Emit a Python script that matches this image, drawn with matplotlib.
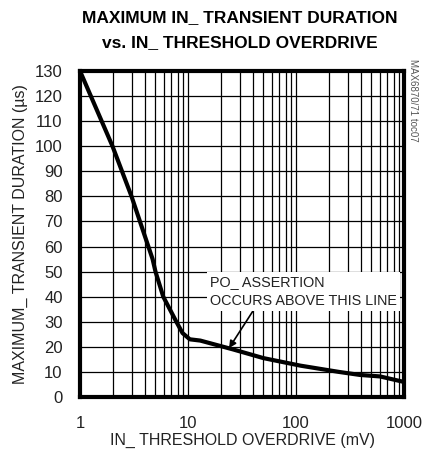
import matplotlib
matplotlib.use('Agg')
import matplotlib.pyplot as plt
from matplotlib.ticker import FixedLocator, LogLocator, NullFormatter

plt.rcParams['font.family'] = ['Liberation Sans Narrow', 'Liberation Sans', 'DejaVu Sans']

# curve
overdrive_mv = [1, 2, 3, 4.7, 5, 5.9, 7.8, 8.9, 10.4, 13, 26, 50, 110, 250, 390, 600, 1000]
duration_us = [130, 100, 80, 55, 50, 40, 30, 25.5, 23, 22.5, 19, 15.5, 12.5, 10, 8.8, 8.2, 6]

x_ticks = [1, 10, 100, 1000]
x_labels = ['1', '10', '100', '1000']
y_ticks = list(range(0, 131, 10))

fig = plt.figure(figsize=(4.22, 4.55), dpi=100)
ax = fig.add_axes([80 / 422, 1 - 397 / 455, 324 / 422, 326 / 455])

ax.plot(overdrive_mv, duration_us, color='black', lw=3, solid_capstyle='round', zorder=3)

ax.set_xscale('log')
ax.set_xlim(1, 1000)
ax.set_ylim(0, 130)
ax.xaxis.set_major_locator(FixedLocator(x_ticks))
ax.set_xticklabels(x_labels)
ax.xaxis.set_minor_locator(LogLocator(base=10, subs=range(2, 10)))
ax.xaxis.set_minor_formatter(NullFormatter())
ax.set_yticks(y_ticks)

ax.grid(True, which='both', axis='x', color='black', lw=0.9)
ax.grid(True, which='major', axis='y', color='black', lw=0.9)
ax.tick_params(which='both', length=0, labelsize=12, colors='#222222')
ax.tick_params(axis='x', pad=14)
ax.tick_params(axis='y', pad=12.5)
for s in ax.spines.values():
    s.set_linewidth(3)

ax.set_xlabel('IN_ THRESHOLD OVERDRIVE (mV)', fontsize=11.5, color='#222222')
ax.set_ylabel('MAXIMUM_ TRANSIENT DURATION (µs)', fontsize=11.5, color='#222222')
ax.xaxis.set_label_coords(0.5, -(440 - 397) / 326)
ax.yaxis.set_label_coords(-(80 - 20) / 324, 0.5)
ax.xaxis.label.set_va('center')
ax.yaxis.label.set_va('center')

fig.suptitle('MAXIMUM IN_ TRANSIENT DURATION\nvs. IN_ THRESHOLD OVERDRIVE',
             x=240 / 422, y=1 - 10 / 455, fontsize=12.5, fontweight='bold', linespacing=1.85)

ax.annotate('PO_ ASSERTION\nOCCURS ABOVE THIS LINE', xy=(24, 19.5), xytext=(16, 35.5),
            fontsize=10.4, color='#222222', va='bottom', ha='left', linespacing=1.45,
            bbox=dict(boxstyle='square,pad=0.2', fc='white', ec='none'),
            arrowprops=dict(arrowstyle='-|>', color='black', lw=1.2, shrinkA=0, shrinkB=0,
                            relpos=(0.24, 0.0)))

fig.text(413 / 422, 1 - 100 / 455, 'MAX6870/71 toc07', rotation=270, fontsize=7,
         color='#555555', ha='center', va='center')

fig.savefig('out.png', dpi=100)
